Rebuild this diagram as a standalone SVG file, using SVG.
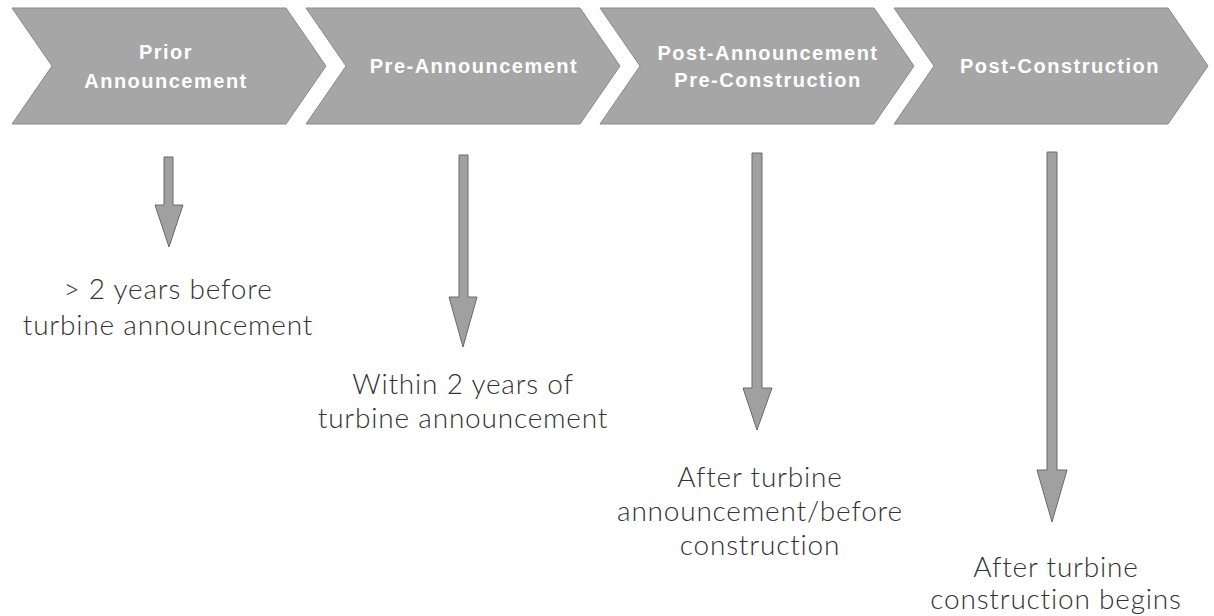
<svg xmlns="http://www.w3.org/2000/svg" width="1214" height="616" viewBox="0 0 1214 616">
<style>
.chev{fill:#a6a6a6;stroke:#8a8a8a;stroke-width:1}
.ct{font-family:"Liberation Sans",Arial,sans-serif;font-weight:bold;font-size:20px;fill:#ffffff;text-anchor:middle;letter-spacing:1.5px}
.arr{fill:#a0a0a0;stroke:#6a6a6a;stroke-width:1}
.lt{font-family:Lato,"Open Sans",sans-serif;font-weight:300;font-size:28px;fill:#333333;text-anchor:middle;letter-spacing:0.8px}
</style>
<rect width="1214" height="616" fill="#ffffff"/>
<g id="phase1">
<polygon class="chev" points="12,8 286,8 326,66 286,124 12,124 52,66"/>
<text class="ct" x="166" y="59">Prior</text>
<text class="ct" x="166" y="88">Announcement</text>
</g>
<g id="phase2">
<polygon class="chev" points="306,8 580,8 620,66 580,124 306,124 346,66"/>
<text class="ct" x="474" y="73">Pre-Announcement</text>
</g>
<g id="phase3">
<polygon class="chev" points="600,8 874,8 914,66 874,124 600,124 640,66"/>
<text class="ct" x="768" y="60">Post-Announcement</text>
<text class="ct" x="768" y="87">Pre-Construction</text>
</g>
<g id="phase4">
<polygon class="chev" points="894,8 1168,8 1208,66 1168,124 894,124 934,66"/>
<text class="ct" x="1060" y="73">Post-Construction</text>
</g>
<g id="connectors">
<polygon class="arr" points="164,157 173,157 173,205 183,205 169,247 155,205 164,205"/>
<polygon class="arr" points="459,155 468,155 468,297 477,297 463,347 449,297 459,297"/>
<polygon class="arr" points="752,153 762,153 762,388 772,388 757,430 743,388 752,388"/>
<polygon class="arr" points="1047,152 1057,152 1057,470 1067,470 1052,522 1037,470 1047,470"/>
</g>
<g id="label1">
<text class="lt" x="168" y="299">&gt; 2 years before</text>
<text class="lt" x="168" y="335">turbine announcement</text>
</g>
<g id="label2">
<text class="lt" x="463" y="394">Within 2 years of</text>
<text class="lt" x="463" y="428">turbine announcement</text>
</g>
<g id="label3">
<text class="lt" x="760" y="487">After turbine</text>
<text class="lt" x="760" y="521">announcement/before</text>
<text class="lt" x="760" y="555">construction</text>
</g>
<g id="label4">
<text class="lt" x="1056" y="577">After turbine</text>
<text class="lt" x="1056" y="609">construction begins</text>
</g>
</svg>
